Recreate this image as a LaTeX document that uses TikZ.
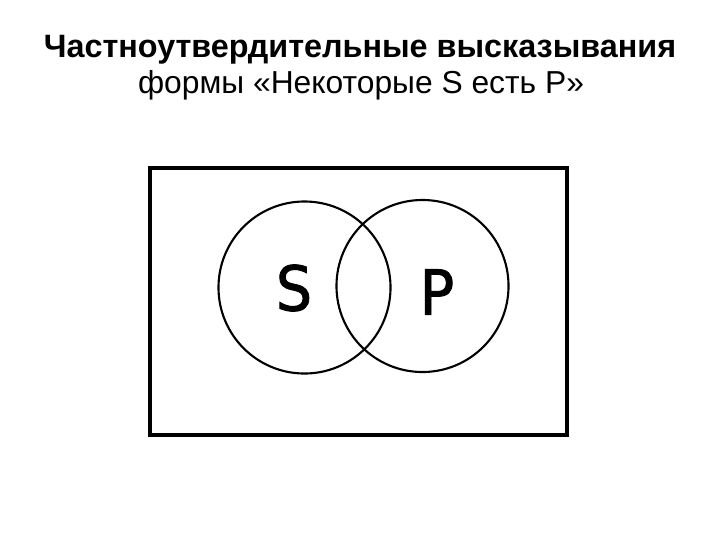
\documentclass[tikz,border=0pt]{standalone}
\usepackage{fontspec}
\setmainfont{Liberation Sans}
\newfontfamily\letterfont[FakeBold=1.5]{DejaVu Sans}
\begin{document}
\begin{tikzpicture}
[x=0.025cm, y=-0.025cm,
% STYLES
% The title style is used for the two heading lines
title/.style={anchor=base, inner sep=0pt, font=\fontsize{23}{27}\selectfont},
% The set style is used to draw the circles of S and P
set/.style={circle, draw, line width=1.5pt, minimum size=4.3cm, inner sep=0pt},
letter/.style={inner sep=0pt, font=\letterfont\fontsize{44}{48}\selectfont}]

\useasboundingbox (0,0) rectangle (720,540);

% Draw heading
\node [title, font=\fontsize{23}{27}\selectfont\bfseries] (head) at (360,57) {Частноутвердительные высказывания};
\node [title, font=\fontsize{22.6}{27}\selectfont] (form) at (361,93) {формы «Некоторые S есть P»};

% Draw universe and sets
\node [draw, line width=2.3pt, minimum width=417*0.025cm, minimum height=267*0.025cm, inner sep=0pt] (universe) at (358.5,301.5) {};
\node [set] (s) at (304.5,287.5) {};
\node [set] (p) at (422.5,286) {};

\node [letter, xscale=0.92] (sname) at (294,288) {S};
\node [letter, xscale=0.92] (pname) at (437,292) {P};

\end{tikzpicture}
\end{document}
